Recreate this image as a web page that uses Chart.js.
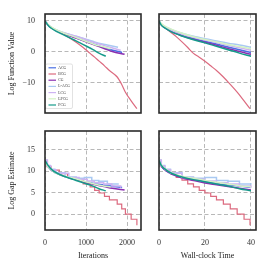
<!DOCTYPE html>
<html>
<head>
<meta charset="utf-8">
<script src="https://cdn.jsdelivr.net/npm/chart.js@4.4.1/dist/chart.umd.min.js"></script>
<style>
  html, body { margin: 0; padding: 0; background: #fff; }
  #wrap { position: relative; width: 270px; height: 270px; overflow: hidden; }
  canvas { position: absolute; }
</style>
</head>
<body>
<div id="wrap">
  <canvas id="fvalIter" width="145" height="118" style="left:0;top:0"></canvas>
  <canvas id="fvalTime" width="125" height="118" style="left:145px;top:0"></canvas>
  <canvas id="gapIter" width="145" height="152" style="left:0;top:118px"></canvas>
  <canvas id="gapTime" width="125" height="152" style="left:145px;top:118px"></canvas>
</div>
<script>
// Solver comparison: log function value and log gap estimate
const methodNames = ['ACG', 'BCG', 'CG', 'L-ACG', 'LCG', 'LPCG', 'PCG'];
const methodColors = ['#4a6fe3', '#dc6a7f', '#8a2fb0', '#a9c9f2', '#cdb3f2', '#d3f3c4', '#159a8a'];

// wall-clock samples shared by most methods
const timeGrid = [0, 1, 2.5, 5, 10, 15, 20, 25, 30, 35, 40];

const acgIter = [0, 65, 140, 280, 570, 800, 990, 1190, 1390, 1600, 1880];
const acgFval = [10, 8.8, 7.9, 6.9, 5.4, 4.3, 3.4, 2.5, 1.6, 0.7, -0.2];
const acgGap = [12.5, 11.2, 10.3, 9.5, 8.5, 8.0, 7.5, 7.1, 6.8, 6.5, 6.2];

const bcgTime = [0, 1, 2.5, 5, 7.5, 10, 12.5, 15, 17.5, 20, 22.5, 25, 28, 31, 34, 37, 39.6];
const bcgIter = [0, 50, 150, 350, 550, 750, 930, 1100, 1210, 1320, 1450, 1570, 1760, 1870, 1960, 2100, 2240];
const bcgFval = [10, 8.9, 7.9, 6.4, 4.9, 3.2, 1.4, -0.5, -1.7, -3.0, -4.5, -6.0, -8.1, -10.5, -13.0, -15.8, -18.3];
const bcgGap = [12.5, 11.0, 10.2, 9.4, 8.5, 7.9, 7.0, 6.3, 5.5, 4.9, 4.1, 3.3, 2.3, 1.2, 0.0, -1.2, -2.6];

const cgIter = [0, 70, 150, 300, 600, 830, 1030, 1230, 1440, 1640, 1940];
const cgFval = [10, 8.7, 7.8, 6.7, 5.2, 4.1, 3.1, 2.1, 1.1, 0.1, -0.8];
const cgGap = [12.5, 11.2, 10.3, 9.4, 8.4, 7.8, 7.2, 6.8, 6.4, 6.0, 5.6];

const laCgIter = [0, 55, 125, 240, 490, 760, 960, 1140, 1310, 1520, 1780];
const laCgFval = [10, 9.0, 8.2, 7.3, 6.0, 5.0, 4.2, 3.5, 2.8, 2.2, 1.5];
const laCgGap = [12.5, 11.3, 10.4, 9.6, 8.6, 8.3, 8.5, 7.8, 7.6, 7.0, 6.8];

const lcgIter = [0, 60, 140, 270, 580, 830, 1030, 1200, 1430, 1630, 1845];
const lcgFval = [10, 8.9, 8.0, 7.0, 5.7, 4.7, 3.8, 3.0, 2.1, 1.3, 0.5];
const lcgGap = [12.5, 11.2, 10.3, 9.5, 8.5, 8.1, 7.7, 7.3, 7.0, 6.5, 6.1];

const lpcgIter = [0, 50, 120, 230, 470, 700, 880, 1040, 1200, 1400, 1600];
const lpcgFval = [10, 9.1, 8.3, 7.4, 6.0, 4.9, 4.0, 3.2, 2.4, 1.7, 1.0];
const lpcgGap = [12.5, 11.4, 10.6, 9.7, 8.8, 8.3, 7.8, 7.4, 7.0, 6.6, 6.3];

const pcgIter = [0, 75, 145, 275, 515, 700, 855, 1015, 1170, 1315, 1480];
const pcgFval = [10, 8.6, 7.7, 6.6, 5.1, 3.9, 2.9, 1.8, 0.7, -0.4, -1.4];
const pcgGap = [12.5, 11.3, 10.5, 9.6, 8.6, 8.0, 7.5, 7.0, 6.5, 5.9, 5.4];

const fvalTicks = [-10, 0, 10];
const gapTicks = [0, 5, 10, 15];
const iterTicks = [0, 1000, 2000];
const timeTicks = [0, 20, 40];

const methods = [
    { iter: acgIter, time: timeGrid, fval: acgFval, gap: acgGap, stepGap: false },
    { iter: bcgIter, time: bcgTime, fval: bcgFval, gap: bcgGap, stepGap: true },
    { iter: cgIter, time: timeGrid, fval: cgFval, gap: cgGap, stepGap: false },
    { iter: laCgIter, time: timeGrid, fval: laCgFval, gap: laCgGap, stepGap: true },
    { iter: lcgIter, time: timeGrid, fval: lcgFval, gap: lcgGap, stepGap: true },
    { iter: lpcgIter, time: timeGrid, fval: lpcgFval, gap: lpcgGap, stepGap: false },
    { iter: pcgIter, time: timeGrid, fval: pcgFval, gap: pcgGap, stepGap: false }
];

const serif = '"Liberation Serif", "DejaVu Serif", serif';
const tickFont = { family: serif, size: 8 };
const gridColor = '#b8b8b8';

function fmtTick(v) {
    return v < 0 ? '\u2212' + (-v) : String(v);
}

function buildDatasets(xKey, yKey) {
    return methods.map((m, i) => {
        const stepped = yKey === 'gap' && m.stepGap;
        return {
            label: methodNames[i],
            data: m[xKey].map((x, j) => ({ x: x, y: m[yKey][j] })),
            borderColor: methodColors[i],
            backgroundColor: methodColors[i],
            borderWidth: i === 1 ? 1.2 : 1.5,
            pointRadius: 0,
            stepped: stepped,
            cubicInterpolationMode: stepped ? 'default' : 'monotone',
            order: methods.length - 1 - i // later methods drawn on top
        };
    });
}

// thick dark frame around each plot
const framePlugin = {
    id: 'frame',
    afterDraw(chart) {
        const { ctx, chartArea: a } = chart;
        ctx.save();
        ctx.strokeStyle = '#2b2b2b';
        ctx.lineWidth = 1.6;
        ctx.strokeRect(a.left, a.top, a.right - a.left, a.bottom - a.top);
        ctx.restore();
    }
};

// small legend box in the lower left of the plot area
const innerLegend = {
    id: 'innerLegend',
    afterDatasetsDraw(chart, args, opts) {
        if (!opts.show) return;
        const { ctx, chartArea: a } = chart;
        const rowH = 6.2, boxW = 27, boxH = 44.5;
        const x0 = a.left + 0.5, y0 = a.bottom - 4.5 - boxH;
        ctx.save();
        ctx.fillStyle = 'rgba(255,255,255,0.92)';
        ctx.strokeStyle = '#cfcfcf';
        ctx.lineWidth = 0.6;
        ctx.beginPath();
        ctx.roundRect(x0, y0, boxW, boxH, 1.5);
        ctx.fill();
        ctx.stroke();
        ctx.font = '3.8px ' + serif;
        ctx.textBaseline = 'middle';
        chart.data.datasets.forEach((ds, i) => {
            const y = y0 + 3.8 + i * rowH;
            ctx.strokeStyle = ds.borderColor;
            ctx.lineWidth = 1.2;
            ctx.beginPath();
            ctx.moveTo(x0 + 3, y);
            ctx.lineTo(x0 + 10.5, y);
            ctx.stroke();
            ctx.fillStyle = '#333';
            ctx.fillText(ds.label, x0 + 12.8, y);
        });
        ctx.restore();
    }
};

function xAxis(min, max, ticks, title) {
    const show = !!title;
    return {
        type: 'linear',
        min: min,
        max: max,
        afterBuildTicks: s => { s.ticks = ticks.map(v => ({ value: v })); },
        afterFit: s => {
            s.height = show ? 40 : 5;
            s.paddingLeft = 0;
            s.paddingRight = 0;
        },
        grid: { color: gridColor, lineWidth: 1, drawTicks: false },
        border: { display: false, dash: [4, 2.5] },
        ticks: { display: show, autoSkip: false, padding: 8, font: tickFont, color: '#333', maxRotation: 0, callback: fmtTick },
        title: { display: show, text: title || '', font: tickFont, color: '#222', padding: { top: 0, bottom: 9.5 } }
    };
}

function yAxis(min, max, ticks, title) {
    const show = !!title;
    return {
        type: 'linear',
        min: min,
        max: max,
        afterBuildTicks: s => { s.ticks = ticks.map(v => ({ value: v })); },
        afterFit: s => {
            s.width = show ? 45 : 14;
            s.paddingTop = 0;
            s.paddingBottom = 0;
        },
        grid: { color: gridColor, lineWidth: 1, drawTicks: false },
        border: { display: false, dash: [4, 2.5] },
        ticks: { display: show, autoSkip: false, padding: 10, font: tickFont, color: '#333', callback: fmtTick },
        title: { display: show, text: title || '', font: tickFont, color: '#222', padding: { top: 7, bottom: 0 } }
    };
}

function makeChart(id, xKey, yKey, cfg) {
    const el = document.getElementById(id);
    return new Chart(el.getContext('2d'), {
        type: 'line',
        data: { datasets: buildDatasets(xKey, yKey) },
        options: {
            responsive: false,
            animation: false,
            devicePixelRatio: 1,
            layout: { padding: cfg.padding },
            plugins: {
                legend: { display: false },
                tooltip: { enabled: false },
                innerLegend: { show: !!cfg.legend }
            },
            scales: { x: cfg.x, y: cfg.y }
        },
        plugins: [innerLegend, framePlugin]
    });
}

const iterMax = 2340, timeMax = 42.2;

makeChart('fvalIter', 'iter', 'fval', {
    padding: { top: 14, right: 4, left: 0, bottom: 0 },
    legend: true,
    x: xAxis(0, iterMax, iterTicks, null),
    y: yAxis(-19.7, 12.2, fvalTicks, 'Log Function Value')
});
makeChart('fvalTime', 'time', 'fval', {
    padding: { top: 14, right: 14, left: 0, bottom: 0 },
    x: xAxis(0, timeMax, timeTicks, null),
    y: yAxis(-19.7, 12.2, fvalTicks, null)
});
makeChart('gapIter', 'iter', 'gap', {
    padding: { top: 13, right: 4, left: 0, bottom: 0 },
    x: xAxis(0, iterMax, iterTicks, 'Iterations'),
    y: yAxis(-3.7, 19.3, gapTicks, 'Log Gap Estimate')
});
makeChart('gapTime', 'time', 'gap', {
    padding: { top: 13, right: 14, left: 0, bottom: 0 },
    x: xAxis(0, timeMax, timeTicks, 'Wall-clock Time'),
    y: yAxis(-3.7, 19.3, gapTicks, null)
});
</script>
</body>
</html>
